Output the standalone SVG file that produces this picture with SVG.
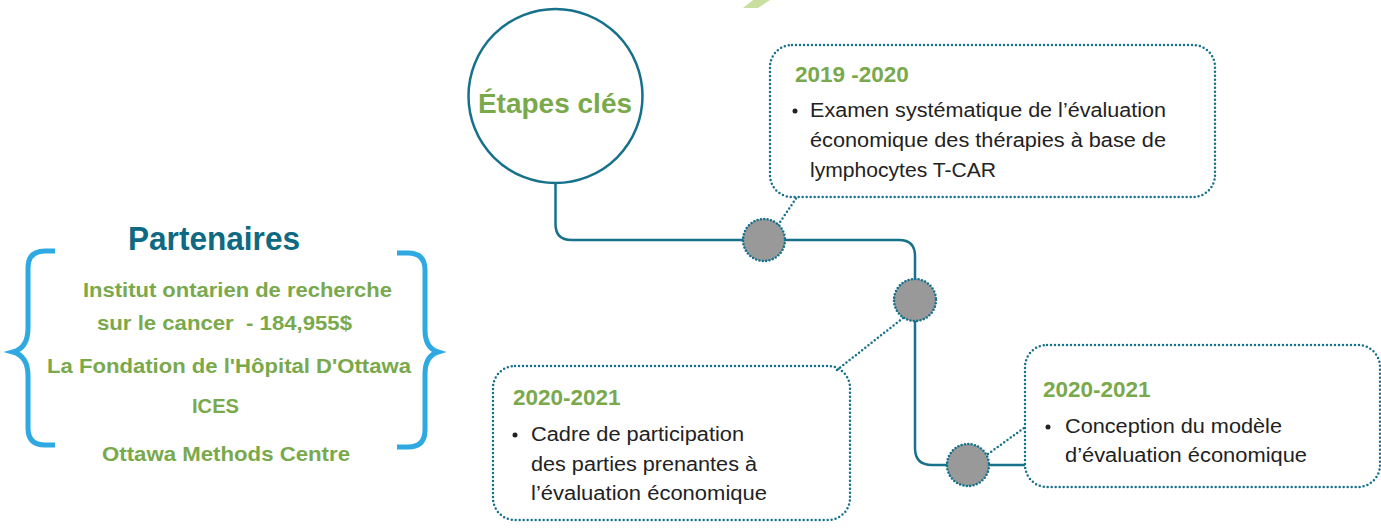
<svg xmlns="http://www.w3.org/2000/svg" width="1381" height="529" viewBox="0 0 1381 529">
<style>
.line{fill:none;stroke:#17718a;stroke-width:2.5}
.dot{fill:none;stroke:#17718a;stroke-width:2.5;stroke-dasharray:0 4;stroke-linecap:round}
.node{fill:#999999;stroke:#17718a;stroke-width:2.6;stroke-dasharray:0 3.4;stroke-linecap:round}
.year{font-family:"Liberation Sans",Arial,sans-serif;font-weight:bold;font-size:22.5px;fill:#7aa94c}
.body{font-family:"Liberation Sans",Arial,sans-serif;font-size:20px;fill:#222222}
.part{font-family:"Liberation Sans",Arial,sans-serif;font-weight:bold;font-size:21px;fill:#7aa94c}
.brace{fill:none;stroke:#2fa9e1;stroke-width:5;stroke-linecap:butt}
</style>
<polygon points="743,8 758,8 770,0 753,0" fill="#c8df9f"/>
<g id="connectors">
<path class="line" d="M555.5 183 V224 Q555.5 240 571.5 240 H899 Q915 240 915 256 V448 Q915 465 932 465 H1025"/>
<line class="dot" x1="778" y1="225" x2="797" y2="197"/>
<line class="dot" x1="903" y1="318" x2="837" y2="370"/>
<line class="dot" x1="988" y1="454" x2="1024" y2="428"/>
</g>
<g id="etapes">
<circle cx="555.5" cy="96" r="87" fill="#fff" stroke="#17718a" stroke-width="2.5"/>
<text x="555" y="113" text-anchor="middle" font-family="Liberation Sans, Arial, sans-serif" font-weight="bold" font-size="28" fill="#7aa94c">Étapes clés</text>
</g>
<g id="node1"><circle class="node" cx="764" cy="240" r="21"/></g>
<g id="node2"><circle class="node" cx="915" cy="300" r="21"/></g>
<g id="node3"><circle class="node" cx="968" cy="465" r="21"/></g>
<g id="box1">
<rect class="dot" x="770" y="45" width="445" height="152" rx="22"/>
<text class="year" x="795" y="82">2019 -2020</text>
<circle cx="795" cy="111" r="2.5" fill="#222"/>
<text class="body" x="810" y="117" textLength="356" lengthAdjust="spacingAndGlyphs">Examen systématique de l’évaluation</text>
<text class="body" x="810" y="147" textLength="356" lengthAdjust="spacingAndGlyphs">économique des thérapies à base de</text>
<text class="body" x="810" y="177" textLength="186" lengthAdjust="spacingAndGlyphs">lymphocytes T-CAR</text>
</g>
<g id="box2">
<rect class="dot" x="493" y="366" width="357" height="154" rx="22"/>
<text class="year" x="513" y="405">2020-2021</text>
<circle cx="515" cy="435" r="2.5" fill="#222"/>
<text class="body" x="531" y="441" textLength="213" lengthAdjust="spacingAndGlyphs">Cadre de participation</text>
<text class="body" x="531" y="471" textLength="226" lengthAdjust="spacingAndGlyphs">des parties prenantes à</text>
<text class="body" x="531" y="500" textLength="236" lengthAdjust="spacingAndGlyphs">l’évaluation économique</text>
</g>
<g id="box3">
<rect class="dot" x="1025" y="345" width="355" height="142" rx="22"/>
<text class="year" x="1043" y="397">2020-2021</text>
<circle cx="1048" cy="427" r="2.5" fill="#222"/>
<text class="body" x="1065" y="433" textLength="217" lengthAdjust="spacingAndGlyphs">Conception du modèle</text>
<text class="body" x="1065" y="462" textLength="242" lengthAdjust="spacingAndGlyphs">d’évaluation économique</text>
</g>
<g id="partenaires">
<text x="214" y="250" text-anchor="middle" font-family="Liberation Sans, Arial, sans-serif" font-weight="bold" font-size="33" fill="#0e6a82" textLength="172" lengthAdjust="spacingAndGlyphs">Partenaires</text>
<path class="brace" d="M55 251 H45 Q28 251 28 268 V328 Q28 348 13 352 Q28 356 28 376 V428 Q28 445 45 445 H55"/>
<path class="brace" d="M397 253 H408 Q425 253 425 270 V330 Q425 348 438 352 Q425 356 425 374 V430 Q425 447 408 447 H397"/>
<text class="part" x="83" y="297" textLength="309" lengthAdjust="spacingAndGlyphs">Institut ontarien de recherche</text>
<text class="part" x="97" y="330" textLength="255" lengthAdjust="spacingAndGlyphs" xml:space="preserve">sur le cancer  - 184,955$</text>
<text class="part" x="47" y="373" textLength="364" lengthAdjust="spacingAndGlyphs">La Fondation de l'Hôpital D'Ottawa</text>
<text class="part" x="192" y="413" textLength="47" lengthAdjust="spacingAndGlyphs">ICES</text>
<text class="part" x="102" y="461" textLength="248" lengthAdjust="spacingAndGlyphs">Ottawa Methods Centre</text>
</g>
</svg>
